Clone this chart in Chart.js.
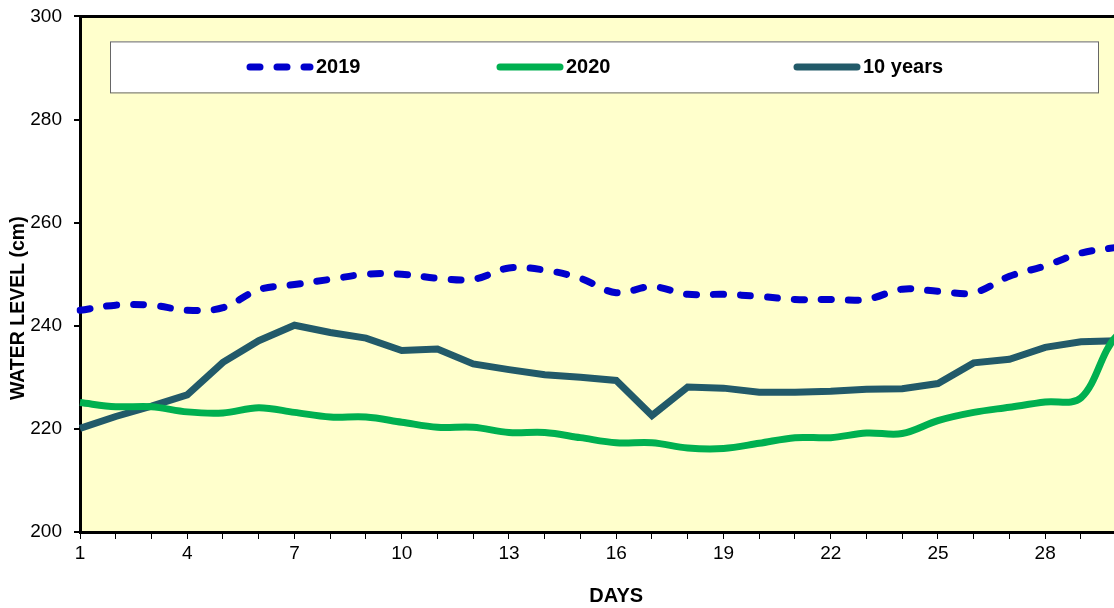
<!DOCTYPE html>
<html>
<head>
<meta charset="utf-8">
<script src="https://cdn.jsdelivr.net/npm/chart.js@4.4.1/dist/chart.umd.min.js"></script>
<style>
  html, body { margin: 0; padding: 0; background: #fff; overflow: hidden; }
  #wrap { width: 1166px; height: 615px; position: relative; top: -7px; }
</style>
</head>
<body>
<div id="wrap"><canvas id="chart"></canvas></div>
<script>
// days of the month (the last one sits past the right edge of the picture)
const days = ['1','2','3','4','5','6','7','8','9','10','11','12','13','14','15','16',
  '17','18','19','20','21','22','23','24','25','26','27','28','29','30','31'];

const level2019 = [243, 244, 244, 243, 243.5, 247, 248, 249, 250, 250, 249.2, 249, 251.2, 250.8,
  249.2, 246.4, 247.6, 246.1, 246.1, 245.7, 245.1, 245.1, 245.1, 247.1, 246.7, 246.4, 249.6,
  251.6, 254.1, 255.2, 256];

const level2020 = [225.1, 224.3, 224.3, 223.3, 223.1, 224.1, 223.2, 222.3, 222.3, 221.3, 220.3,
  220.3, 219.3, 219.3, 218.3, 217.3, 217.3, 216.3, 216.2, 217.2, 218.3, 218.3, 219.2, 219.1,
  221.6, 223.2, 224.2, 225.2, 226.0, 238, 240];

const level10yrs = [220.1, 222.4, 224.4, 226.6, 232.9, 237.1, 240.1, 238.7, 237.6, 235.2, 235.5,
  232.6, 231.5, 230.5, 230.0, 229.4, 222.6, 228.1, 227.9, 227.1, 227.1, 227.3, 227.7, 227.8,
  228.8, 232.8, 233.5, 235.8, 236.9, 237.1, 237.3];

const seriesNames = ['2019', '2020', '10 years'];
const yTitle = 'WATER LEVEL (cm)';
const xTitle = 'DAYS';

const FONT = "'Liberation Sans', Arial, sans-serif";

// yellow plot area, top frame line, boxed legend and y title
const framePlugin = {
  id: 'frame',
  beforeDraw(chart) {
    const { ctx, chartArea: a } = chart;
    ctx.save();
    ctx.fillStyle = '#FFFFCC';
    ctx.fillRect(a.left, a.top, a.right - a.left, a.bottom - a.top);
    ctx.restore();
  },
  afterDraw(chart) {
    const { ctx, chartArea: a } = chart;
    ctx.save();
    ctx.strokeStyle = '#000';
    ctx.lineWidth = 3;
    ctx.beginPath();
    ctx.moveTo(a.left - 1, a.top);
    ctx.lineTo(a.right, a.top);
    ctx.stroke();

    // legend box
    const bx = a.left + 30, by = a.top + 25, bw = 988, bh = 51;
    ctx.fillStyle = '#fff';
    ctx.fillRect(bx, by, bw, bh);
    ctx.strokeStyle = '#666';
    ctx.lineWidth = 1;
    ctx.strokeRect(bx + 0.5, by + 0.5, bw, bh);

    const starts = [250, 500, 797];
    const cy = by + bh / 2;
    chart.data.datasets.forEach((ds, i) => {
      const x0 = starts[i];
      ctx.save();
      ctx.strokeStyle = ds.borderColor;
      ctx.lineWidth = ds.borderWidth;
      ctx.lineCap = 'round';
      ctx.setLineDash(ds.borderDash || []);
      ctx.beginPath();
      ctx.moveTo(x0, cy);
      ctx.lineTo(x0 + 60, cy);
      ctx.stroke();
      ctx.restore();
      ctx.fillStyle = '#000';
      ctx.font = 'bold 20px ' + FONT;
      ctx.textBaseline = 'middle';
      ctx.textAlign = 'left';
      ctx.fillText(ds.label, x0 + 66, cy + 1);
    });

    // y axis title
    ctx.translate(19, (a.top + a.bottom) / 2 + 34);
    ctx.rotate(-Math.PI / 2);
    ctx.fillStyle = '#000';
    ctx.font = 'bold 19.5px ' + FONT;
    ctx.textAlign = 'center';
    ctx.textBaseline = 'middle';
    ctx.fillText(yTitle, 0, 0);
    ctx.restore();
  }
};

new Chart(document.getElementById('chart'), {
  type: 'line',
  data: {
    labels: days,
    datasets: [
      {
        label: seriesNames[0],
        data: level2019,
        borderColor: '#0000CC',
        borderWidth: 7,
        borderDash: [10, 17],
        borderCapStyle: 'round',
        tension: 0.35,
        pointRadius: 0,
        fill: false
      },
      {
        label: seriesNames[1],
        data: level2020,
        borderColor: '#00B050',
        borderWidth: 7,
        tension: 0.35,
        pointRadius: 0,
        fill: false
      },
      {
        label: seriesNames[2],
        data: level10yrs,
        borderColor: '#225A69',
        borderWidth: 7,
        tension: 0,
        pointRadius: 0,
        fill: false
      }
    ]
  },
  options: {
    responsive: true,
    maintainAspectRatio: false,
    animation: false,
    layout: { padding: { top: 8, right: 0, left: 0, bottom: 0 } },
    plugins: {
      legend: { display: false },
      tooltip: { enabled: false },
      title: { display: false }
    },
    scales: {
      x: {
        type: 'category',
        offset: false,
        afterFit(scale) { scale.height = 76; },
        border: { display: true, color: '#000', width: 3 },
        grid: { display: true, drawOnChartArea: false, drawTicks: true, tickLength: 7, color: '#000', lineWidth: 1 },
        ticks: {
          autoSkip: false,
          maxRotation: 0,
          color: '#000',
          padding: 3,
          font: { family: FONT, size: 19 },
          callback(val, idx) { return idx % 3 === 0 ? days[idx] : ''; }
        },
        title: {
          display: true,
          text: xTitle,
          color: '#000',
          font: { family: FONT, size: 20, weight: 'bold' },
          padding: { top: 0, bottom: 0 }
        }
      },
      y: {
        min: 200,
        max: 300,
        afterFit(scale) { scale.width = 80; },
        border: { display: true, color: '#000', width: 3 },
        grid: { display: true, drawOnChartArea: false, drawTicks: true, tickLength: 6, color: '#000', lineWidth: 2 },
        ticks: {
          stepSize: 20,
          color: '#000',
          padding: 12,
          font: { family: FONT, size: 19 }
        }
      }
    }
  },
  plugins: [framePlugin]
});
</script>
</body>
</html>
